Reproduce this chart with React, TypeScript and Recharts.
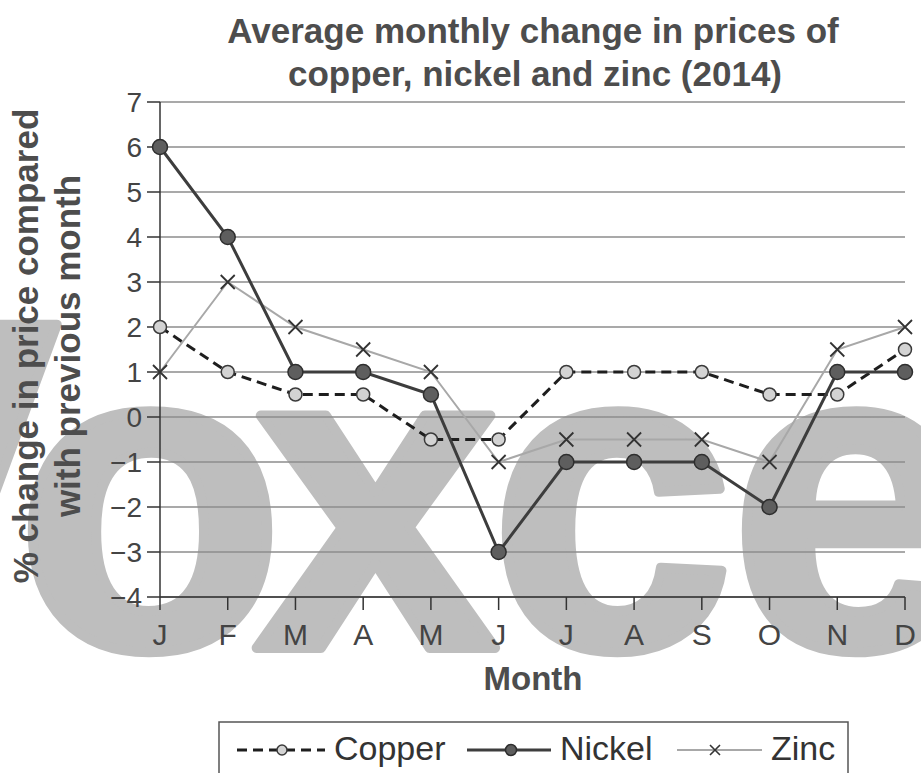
import { LineChart, Line, XAxis, YAxis, CartesianGrid } from "recharts";

const MONTHS = ["J", "F", "M", "A", "M", "J", "J", "A", "S", "O", "N", "D"];
const COPPER = [2, 1, 0.5, 0.5, -0.5, -0.5, 1, 1, 1, 0.5, 0.5, 1.5];
const NICKEL = [6, 4, 1, 1, 0.5, -3, -1, -1, -1, -2, 1, 1];
const ZINC = [1, 3, 2, 1.5, 1, -1, -0.5, -0.5, -0.5, -1, 1.5, 2];
const Y_TICKS = [-4, -3, -2, -1, 0, 1, 2, 3, 4, 5, 6, 7];
const X_TICKS = MONTHS.map((_, i) => i);

const TITLE = ["Average monthly change in prices of", "copper, nickel and zinc (2014)"];
const Y_LABEL = ["% change in price compared", "with previous month"];
const X_LABEL = "Month";
const WATERMARK = ["o", "x", "c", "e"];

const data = MONTHS.map((m, i) => ({
  idx: i,
  month: m,
  copper: COPPER[i],
  nickel: NICKEL[i],
  zinc: ZINC[i],
}));

const FONT = "'Liberation Sans', Arial, sans-serif";
const W = 921;
const H = 773;

const CopperDot = (p: any) => (
  <circle key={`c-${p.index}`} cx={p.cx} cy={p.cy} r={6.5} fill="#d3d3d3" stroke="#3a3a3a" strokeWidth={1.5} />
);

const NickelDot = (p: any) => (
  <circle key={`n-${p.index}`} cx={p.cx} cy={p.cy} r={7.5} fill="#5e5e5e" stroke="#2e2e2e" strokeWidth={1.5} />
);

const ZincDot = (p: any) => {
  const s = 7;
  return (
    <path
      key={`z-${p.index}`}
      d={`M${p.cx - s},${p.cy - s}L${p.cx + s},${p.cy + s}M${p.cx - s},${p.cy + s}L${p.cx + s},${p.cy - s}`}
      stroke="#333"
      strokeWidth={1.8}
      fill="none"
    />
  );
};

const fmtY = (v: number) => (v < 0 ? `\u2212${-v}` : `${v}`);

// faint site watermark sitting behind the plot
const Watermark = () => (
  <svg width={W} height={H} style={{ position: "absolute", left: 0, top: 0 }}>
    <g fill="#bebebe" stroke="#bebebe" strokeWidth={10} strokeLinejoin="round" fontFamily={FONT} fontWeight="bold">
      <text x={60} y={648} textAnchor="end" fontSize={470}>
        V
      </text>
      {WATERMARK.map((ch, i) => (
        <text key={i} x={[150, 376, 612, 852][i]} y={648} textAnchor="middle" fontSize={440}>
          {ch}
        </text>
      ))}
    </g>
  </svg>
);

const Labels = () => (
  <svg width={W} height={H} style={{ position: "absolute", left: 0, top: 0, pointerEvents: "none" }}>
    <text x={533} y={43} textAnchor="middle" fontSize={35} fontWeight="bold" fontFamily={FONT} fill="#4d4d4d">
      {TITLE[0]}
    </text>
    <text x={535} y={86} textAnchor="middle" fontSize={35} fontWeight="bold" fontFamily={FONT} fill="#4d4d4d">
      {TITLE[1]}
    </text>
    <text
      x={38}
      y={346}
      transform="rotate(-90 38 346)"
      textAnchor="middle"
      fontSize={35}
      fontWeight="bold"
      fontFamily={FONT}
      fill="#4d4d4d"
    >
      {Y_LABEL[0]}
    </text>
    <text
      x={80}
      y={346}
      transform="rotate(-90 80 346)"
      textAnchor="middle"
      fontSize={35}
      fontWeight="bold"
      fontFamily={FONT}
      fill="#4d4d4d"
    >
      {Y_LABEL[1]}
    </text>
    <text x={533} y={690} textAnchor="middle" fontSize={33} fontWeight="bold" fontFamily={FONT} fill="#4d4d4d">
      {X_LABEL}
    </text>
  </svg>
);

const LegendBox = () => (
  <svg width={W} height={H} style={{ position: "absolute", left: 0, top: 0, pointerEvents: "none" }}>
    <rect x={219} y={722} width={629} height={70} fill="#fff" stroke="#555" strokeWidth={1.5} />
    {/* copper */}
    <line x1={237} y1={750} x2={325} y2={750} stroke="#1e1e1e" strokeWidth={3} strokeDasharray="10 6" />
    <circle cx={282} cy={750} r={5} fill="#d3d3d3" stroke="#3a3a3a" strokeWidth={1.5} />
    <text x={334} y={760} fontSize={34} fontFamily={FONT} fill="#333">Copper</text>
    {/* nickel */}
    <line x1={467} y1={750} x2={551} y2={750} stroke="#3d3d3d" strokeWidth={3} />
    <circle cx={511} cy={750} r={5.5} fill="#5e5e5e" stroke="#2e2e2e" strokeWidth={1.5} />
    <text x={560} y={760} fontSize={34} fontFamily={FONT} fill="#333">Nickel</text>
    {/* zinc */}
    <line x1={677} y1={750} x2={762} y2={750} stroke="#a8a8a8" strokeWidth={2} />
    <path d="M710,745L720,755M710,755L720,745" stroke="#333" strokeWidth={1.6} />
    <text x={771} y={760} fontSize={34} fontFamily={FONT} fill="#333">Zinc</text>
  </svg>
);

export default function App() {
  return (
    <div style={{ position: "absolute", left: 0, top: 0, width: W, height: H, background: "#fff", overflow: "hidden" }}>
      <Watermark />
      <div style={{ position: "absolute", left: 0, top: 0 }}>
        <LineChart width={W} height={H} data={data} margin={{ top: 102, right: 16, bottom: 116, left: 80 }}>
          <CartesianGrid vertical={false} stroke="#8c8c8c" strokeWidth={1.3} />
          <XAxis
            type="number"
            dataKey="idx"
            domain={[0, 11]}
            ticks={X_TICKS}
            interval={0}
            tickFormatter={(i: number) => MONTHS[i]}
            height={60}
            tickSize={13}
            tickMargin={14}
            axisLine={{ stroke: "#333", strokeWidth: 1.5 }}
            tickLine={{ stroke: "#333", strokeWidth: 1.5 }}
            tick={{ fill: "#444", fontSize: 30, fontFamily: FONT }}
          />
          <YAxis
            type="number"
            domain={[-4, 7]}
            ticks={Y_TICKS}
            interval={0}
            width={80}
            tickFormatter={fmtY}
            tickSize={13}
            tickMargin={5}
            axisLine={{ stroke: "#333", strokeWidth: 1.5 }}
            tickLine={{ stroke: "#333", strokeWidth: 1.5 }}
            tick={{ fill: "#444", fontSize: 28, fontFamily: FONT }}
          />
          <Line
            dataKey="zinc"
            type="linear"
            stroke="#a8a8a8"
            strokeWidth={2}
            dot={ZincDot}
            activeDot={false}
            isAnimationActive={false}
          />
          <Line
            dataKey="copper"
            type="linear"
            stroke="#1e1e1e"
            strokeWidth={3}
            strokeDasharray="10 6"
            dot={CopperDot}
            activeDot={false}
            isAnimationActive={false}
          />
          <Line
            dataKey="nickel"
            type="linear"
            stroke="#3d3d3d"
            strokeWidth={3}
            dot={NickelDot}
            activeDot={false}
            isAnimationActive={false}
          />
        </LineChart>
      </div>
      <Labels />
      <LegendBox />
    </div>
  );
}
